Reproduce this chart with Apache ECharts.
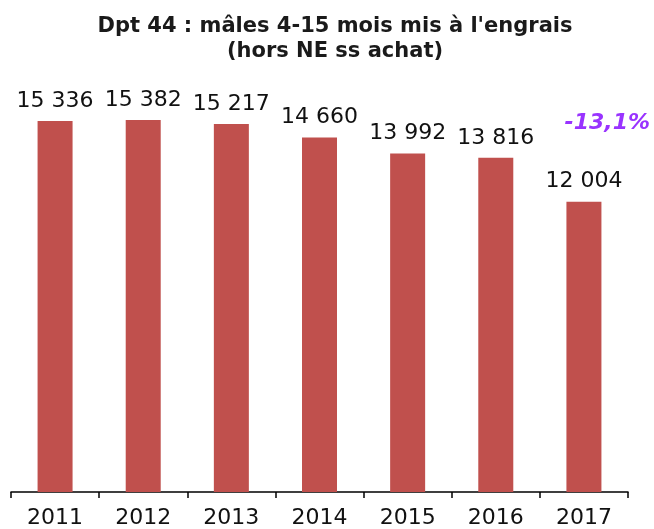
<!DOCTYPE html>
<html>
<head>
<meta charset="utf-8">
<script src="https://cdn.jsdelivr.net/npm/echarts@6/dist/echarts.min.js"></script>
<style>
  html, body { margin: 0; padding: 0; background: #fff; }
  #main { width: 654px; height: 529px; }
</style>
</head>
<body>
<div id="main"></div>
<script>
// données
var years = ['2011', '2012', '2013', '2014', '2015', '2016', '2017'];
var males = [15336, 15382, 15217, 14660, 13992, 13816, 12004];
var evolution = '-13,1%';

var chart = echarts.init(document.getElementById('main'));

function fmt(v) {
  // 15336 -> "15 336"
  return String(v).replace(/\B(?=(\d{3})+(?!\d))/g, ' ');
}

var option = {
  backgroundColor: '#fff',
  title: {
    text: "Dpt 44 : mâles 4-15 mois mis à l'engrais\n(hors NE ss achat)",
    left: 330,
    textAlign: 'center',
    top: 9,
    textStyle: {
      fontFamily: 'DejaVu Sans',
      fontWeight: 'bold',
      fontSize: 21,
      lineHeight: 25,
      color: '#1a1a1a'
    }
  },
  grid: {
    left: 11,
    right: 26,
    top: 105,
    bottom: 35
  },
  xAxis: {
    type: 'category',
    data: years,
    boundaryGap: true,
    axisLine: { lineStyle: { color: '#000', width: 1.5 } },
    axisTick: { show: true, length: 6, lineStyle: { color: '#000', width: 1.5 } },
    axisLabel: {
      fontFamily: 'DejaVu Sans',
      fontSize: 22,
      color: '#111',
      margin: 15
    }
  },
  yAxis: {
    type: 'value',
    min: 0,
    max: 16000,
    show: false,
    splitLine: { show: false }
  },
  series: [{
    name: 'mâles',
    type: 'bar',
    data: males,
    barWidth: 35,
    itemStyle: { color: '#C0504D' },
    label: {
      show: true,
      position: 'top',
      distance: 9,
      fontFamily: 'DejaVu Sans',
      fontSize: 22,
      color: '#111',
      formatter: function (p) { return fmt(p.value); }
    }
  }],
  graphic: [{
    type: 'text',
    right: 4,
    top: 112,
    style: {
      text: evolution,
      fill: '#9933FF',
      font: 'italic bold 22px "DejaVu Sans"'
    }
  }]
};

chart.setOption(option);
</script>
</body>
</html>
